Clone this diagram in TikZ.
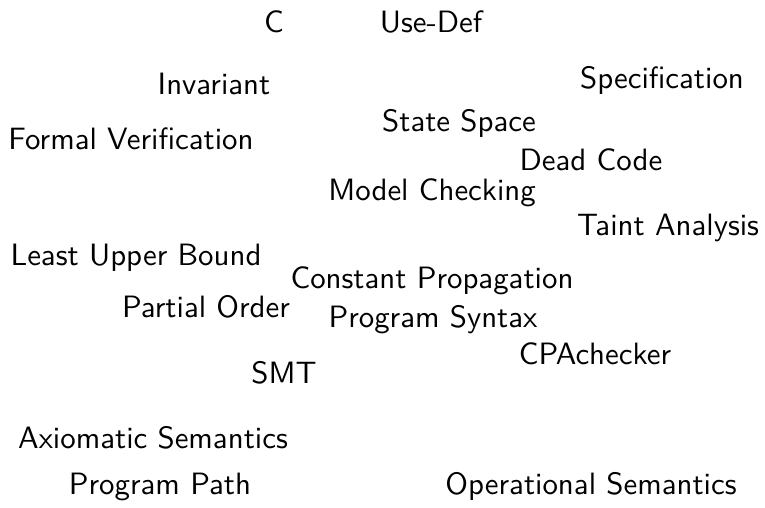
\documentclass[tikz,border=0pt]{standalone}
\usepackage{amsmath, tikz}
\usetikzlibrary{positioning}

\begin{document}
\begin{tikzpicture}[x=0.35pt, y=-0.35pt]
			\tikzset {every node/.style={font=\sffamily\fontsize{10.8}{13}\selectfont, anchor=base, inner sep=0pt} }
			
			\useasboundingbox (0,0) rectangle (765,507);
			
			\node (c) at (274,32) {C};
			\node (usedef) at (431,32) {Use-Def};
			\node (inv) at (214,94) {Invariant};
			\node (spec) at (662,88) {Specification};
			\node (fv) at (131,149) {Formal Verification};
			\node (ss) at (459,131) {State Space};
			\node (dc) at (591,170) {Dead Code};
			\node (mc) at (432,200) {Model Checking};
			\node (ta) at (668,235) {Taint Analysis};
			\node (lub) at (136,265) {Least Upper Bound};
			\node (cp) at (432,288) {Constant Propagation};
			\node (po) at (206,317) {Partial Order};
			\node (ps) at (433,327) {Program Syntax};
			\node (cpa) at (595,364) {CPAchecker};
			\node (smt) at (284,383) {SMT};
			\node (ax) at (153,448) {Axiomatic Semantics};
			\node (pp) at (160,494) {Program Path};
			\node (os) at (591,494) {Operational Semantics};
		\end{tikzpicture}
\end{document}
